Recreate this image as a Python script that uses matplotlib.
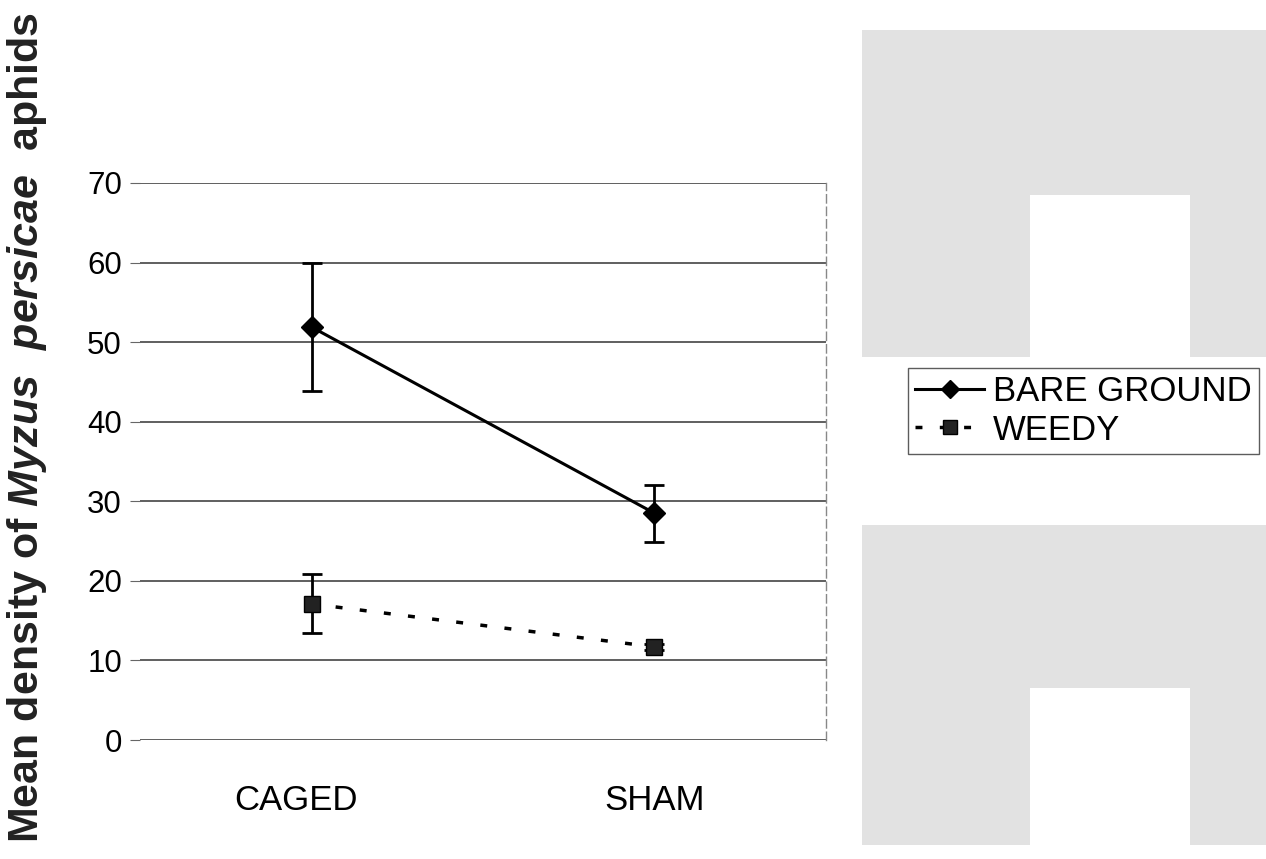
import matplotlib
matplotlib.use("Agg")
import matplotlib.pyplot as plt
from matplotlib.patches import Polygon
from matplotlib.lines import Line2D
import matplotlib.transforms as mtransforms

plt.rcParams['font.family'] = ['Liberation Sans', 'DejaVu Sans']
plt.rcParams['mathtext.fontset'] = 'custom'
plt.rcParams['mathtext.it'] = 'Liberation Sans:italic:bold'
plt.rcParams['mathtext.rm'] = 'Liberation Sans:bold'

categories = ["CAGED", "SHAM"]
bare_ground = [51.9, 28.5]
bare_ground_err = [8.0, 3.6]
weedy = [17.1, 11.7]
weedy_err = [3.7, 0.4]
y_ticks = [0, 10, 20, 30, 40, 50, 60, 70]

W, H = 1266, 859
fig = plt.figure(figsize=(W / 100, H / 100), dpi=100)

# faint grey background shapes (scan artefacts) on the right
def px(x, y):
    return (x / W, 1 - y / H)

grey = '#e2e2e2'
for top, bot, ntop in [(30, 357, 195), (525, 845, 688)]:
    pts = [px(862, top), px(1266, top), px(1266, bot), px(1190, bot),
           px(1190, ntop), px(1030, ntop), px(1030, bot), px(862, bot)]
    fig.patches.append(Polygon(pts, closed=True, transform=fig.transFigure,
                               facecolor=grey, edgecolor='none', zorder=0))

ax = fig.add_axes([140 / W, (H - 740) / H, (826 - 140) / W, (740 - 183) / H])
ax.set_facecolor('white')
x = [0.5, 1.5]

dot_style = (0, (2.0, 5.0))
ax.errorbar(x, bare_ground, yerr=bare_ground_err, color='black', lw=2.2,
            marker='D', markersize=11, capsize=7, capthick=2, elinewidth=2,
            zorder=4)
ax.errorbar(x, weedy, yerr=weedy_err, color='black', lw=2.5,
            linestyle=dot_style, marker='s', markersize=12,
            markerfacecolor='#222222', capsize=7, capthick=2, elinewidth=2,
            zorder=4)

ax.set_xlim(0, 2)
ax.set_ylim(0, 70)
ax.set_yticks(y_ticks)
ax.set_xticks(x)
ax.set_xticklabels(categories)
ax.tick_params(axis='y', labelsize=22.5, length=7, color='#666666', pad=6)
ax.tick_params(axis='x', labelsize=25, length=0, pad=32)
# CAGED label sits a little left of its point in the original
lbl = ax.get_xticklabels()[0]
lbl.set_transform(lbl.get_transform() +
                  mtransforms.ScaledTranslation(-16 / 100, 0, fig.dpi_scale_trans))
ax.yaxis.grid(True, color='#444444', lw=1.2)
ax.set_axisbelow(True)
for s in ['top', 'left', 'bottom']:
    ax.spines[s].set_visible(False)
ax.spines['right'].set_color('#888888')
ax.spines['right'].set_linewidth(1)
ax.spines['right'].set_linestyle((0, (6, 3)))

fig.text(27 / W, 1 - 428 / H, r'Mean density of $Myzus\ \ persicae$  aphids',
         rotation=90, ha='center', va='center', fontsize=31,
         fontweight='bold', color='#222222')

handles = [Line2D([], [], color='black', lw=2.2, marker='D', markersize=9),
           Line2D([], [], color='black', lw=2.5, linestyle=dot_style,
                  marker='s', markersize=10, markerfacecolor='#222222')]
leg = ax.legend(handles, ['BARE GROUND', 'WEEDY'], loc='center left',
                bbox_to_anchor=(908 / W, 1 - 411 / H),
                bbox_transform=fig.transFigure, fontsize=25, frameon=True,
                fancybox=False, edgecolor='#333333', handlelength=2.0,
                handletextpad=0.25, borderpad=0.2, labelspacing=0.15,
                borderaxespad=0)
leg.get_frame().set_linewidth(1)

fig.savefig('out.png', dpi=100, facecolor='white')
